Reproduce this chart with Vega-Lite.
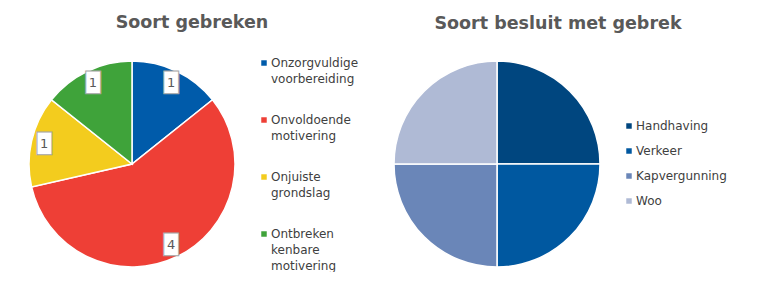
{
  "$schema": "https://vega.github.io/schema/vega-lite/v6.json",
  "background": "white",
  "padding": {"left": 26, "top": 13, "right": 0, "bottom": 0},
  "config": {
    "view": {"stroke": null},
    "font": "DejaVu Sans",
    "style": {"guide-label": {"lineHeight": 16}}
  },
  "spacing": 32,
  "hconcat": [
    {
      "width": 206,
      "height": 206,
      "title": {"text": "Soort gebreken", "fontSize": 17.5, "fontWeight": "bold", "color": "#595959", "font": "DejaVu Sans", "anchor": "middle", "dx": 60, "offset": 12, "baseline": "alphabetic"},
      "data": {"values": [
        {"soort": "Onzorgvuldige voorbereiding", "aantal": 1, "volgorde": 1},
        {"soort": "Onvoldoende motivering", "aantal": 4, "volgorde": 2},
        {"soort": "Onjuiste grondslag", "aantal": 1, "volgorde": 3},
        {"soort": "Ontbreken kenbare motivering", "aantal": 1, "volgorde": 4}
      ]},
      "encoding": {
        "theta": {"field": "aantal", "type": "quantitative", "stack": true},
        "order": {"field": "volgorde", "type": "quantitative"}
      },
      "layer": [
        {
          "mark": {"type": "arc", "stroke": "white", "strokeWidth": 1.5},
          "encoding": {
            "color": {
              "field": "soort", "type": "nominal",
              "scale": {
                "domain": ["Onzorgvuldige voorbereiding", "Onvoldoende motivering", "Onjuiste grondslag", "Ontbreken kenbare motivering"],
                "range": ["#005BAA", "#EE3F36", "#F3CC1E", "#3FA33A"]
              },
              "legend": {
                "title": null, "orient": "none", "legendX": 229, "legendY": -4, "padding": 0,
                "labelExpr": "split(datum.label, ' ')",
                "labelFont": "DejaVu Sans", "labelFontSize": 12, "labelColor": "#404040",
                "symbolType": "square", "symbolSize": 30, "symbolStrokeWidth": 0,
                "rowPadding": 29, "labelOffset": 1
              }
            }
          }
        },
        {
          "mark": {"type": "text", "radius": 90, "text": "█", "font": "DejaVu Sans", "fontSize": 19, "fill": "white", "stroke": "#a6a6a6", "strokeWidth": 1}
        },
        {
          "mark": {"type": "text", "radius": 90, "font": "DejaVu Sans", "fontSize": 13, "color": "#595959"},
          "encoding": {"text": {"field": "aantal", "type": "quantitative"}}
        }
      ]
    },
    {
      "width": 206,
      "height": 206,
      "title": {"text": "Soort besluit met gebrek", "fontSize": 17.5, "fontWeight": "bold", "color": "#595959", "font": "DejaVu Sans", "anchor": "middle", "dx": 61, "offset": 12, "baseline": "alphabetic"},
      "data": {"values": [
        {"besluit": "Handhaving", "aantal": 1, "volgorde": 1},
        {"besluit": "Verkeer", "aantal": 1, "volgorde": 2},
        {"besluit": "Kapvergunning", "aantal": 1, "volgorde": 3},
        {"besluit": "Woo", "aantal": 1, "volgorde": 4}
      ]},
      "mark": {"type": "arc", "stroke": "white", "strokeWidth": 1.5},
      "encoding": {
        "theta": {"field": "aantal", "type": "quantitative", "stack": true},
        "order": {"field": "volgorde", "type": "quantitative"},
        "color": {
          "field": "besluit", "type": "nominal",
          "scale": {
            "domain": ["Handhaving", "Verkeer", "Kapvergunning", "Woo"],
            "range": ["#00467F", "#0058A0", "#6A86B8", "#AFBAD5"]
          },
          "legend": {
            "title": null, "orient": "none", "legendX": 229, "legendY": 59, "padding": 0,
            "labelFont": "DejaVu Sans", "labelFontSize": 12, "labelColor": "#404040",
            "symbolType": "square", "symbolSize": 30, "symbolStrokeWidth": 0,
            "rowPadding": 13, "labelOffset": 1
          }
        }
      }
    }
  ],
  "resolve": {"scale": {"color": "independent"}, "legend": {"color": "independent"}}
}
